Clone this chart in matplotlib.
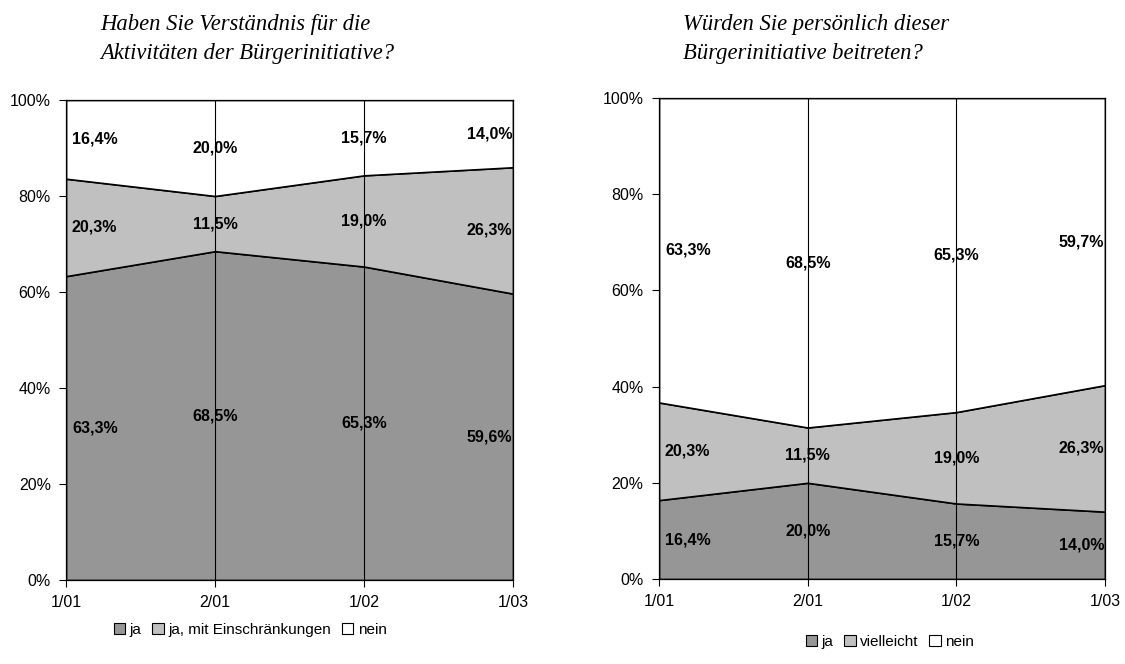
import matplotlib
matplotlib.use("Agg")
import matplotlib.pyplot as plt
from matplotlib.patches import Patch
import numpy as np

periods = ["1/01", "2/01", "1/02", "1/03"]

# left chart: Verständnis
left_ja = [63.3, 68.5, 65.3, 59.6]
left_ja_mit = [20.3, 11.5, 19.0, 26.3]
left_nein = [16.4, 20.0, 15.7, 14.0]
left_names = ["ja", "ja, mit Einschränkungen", "nein"]
left_title = "Haben Sie Verständnis für die\nAktivitäten der Bürgerinitiative?"

# right chart: beitreten
right_ja = [16.4, 20.0, 15.7, 14.0]
right_vielleicht = [20.3, 11.5, 19.0, 26.3]
right_nein = [63.3, 68.5, 65.3, 59.7]
right_names = ["ja", "vielleicht", "nein"]
right_title = "Würden Sie persönlich dieser\nBürgerinitiative beitreten?"

colors = ["#969696", "#c0c0c0", "#ffffff"]

plt.rcParams["font.family"] = ["Liberation Sans", "DejaVu Sans"]


def fmt(v):
    return f"{v:.1f}%".replace(".", ",")


def draw_area(ax, series):
    x = np.arange(len(periods))
    data = np.array(series)
    # normalise so the stack fills 100%
    shares = data / data.sum(axis=0) * 100
    tops = np.cumsum(shares, axis=0)
    bottoms = tops - shares
    for i in range(len(series)):
        ax.fill_between(x, bottoms[i], tops[i], facecolor=colors[i],
                        edgecolor="black", linewidth=1.2, zorder=1)
    for xi in x[1:-1]:
        ax.axvline(xi, color="black", linewidth=0.8, zorder=2)
    for i in range(len(series)):
        for j in range(len(periods)):
            ymid = (bottoms[i][j] + tops[i][j]) / 2
            if j == 0:
                ha, xo = "left", 0.04
            elif j == len(periods) - 1:
                ha, xo = "right", -0.005
            else:
                ha, xo = "center", 0
            ax.text(j + xo, ymid, fmt(data[i][j]), ha=ha, va="center",
                    fontsize=11.5, fontweight="bold", zorder=3)
    ax.set_xlim(0, len(periods) - 1)
    ax.set_ylim(0, 100)
    ax.set_xticks(x)
    ax.set_xticklabels(periods)
    ax.set_yticks(np.arange(0, 101, 20))
    ax.set_yticklabels([f"{v}%" for v in range(0, 101, 20)])
    ax.tick_params(direction="out", length=5, width=0.8, labelsize=11.5, pad=6)
    for s in ax.spines.values():
        s.set_linewidth(0.9)


fig = plt.figure(figsize=(11.25, 6.64), dpi=100)
ax1 = fig.add_axes([0.0587, 0.1265, 0.3973, 0.7229])
ax2 = fig.add_axes([0.5858, 0.128, 0.3964, 0.7244])

draw_area(ax1, [left_ja, left_ja_mit, left_nein])
draw_area(ax2, [right_ja, right_vielleicht, right_nein])

fig.text(100 / 1125, 1 - 39 / 664, left_title, ha="left", va="center",
         fontsize=16.3, style="italic", family="Liberation Serif", linespacing=1.55)
fig.text(683 / 1125, 1 - 39 / 664, right_title, ha="left", va="center",
         fontsize=16.3, style="italic", family="Liberation Serif", linespacing=1.55)

leg_kw = dict(frameon=False, fontsize=11, handlelength=0.75, handleheight=0.75,
              handletextpad=0.3, columnspacing=0.7, ncol=3, borderpad=0)
h1 = [Patch(facecolor=c, edgecolor="black", linewidth=0.8) for c in colors]
fig.legend(h1, left_names, loc="center left",
           bbox_to_anchor=(106 / 1125, 1 - 630 / 664), **leg_kw)
fig.legend(h1, right_names, loc="center left",
           bbox_to_anchor=(798 / 1125, 1 - 642 / 664), **leg_kw)

fig.savefig("out.png", dpi=100)
